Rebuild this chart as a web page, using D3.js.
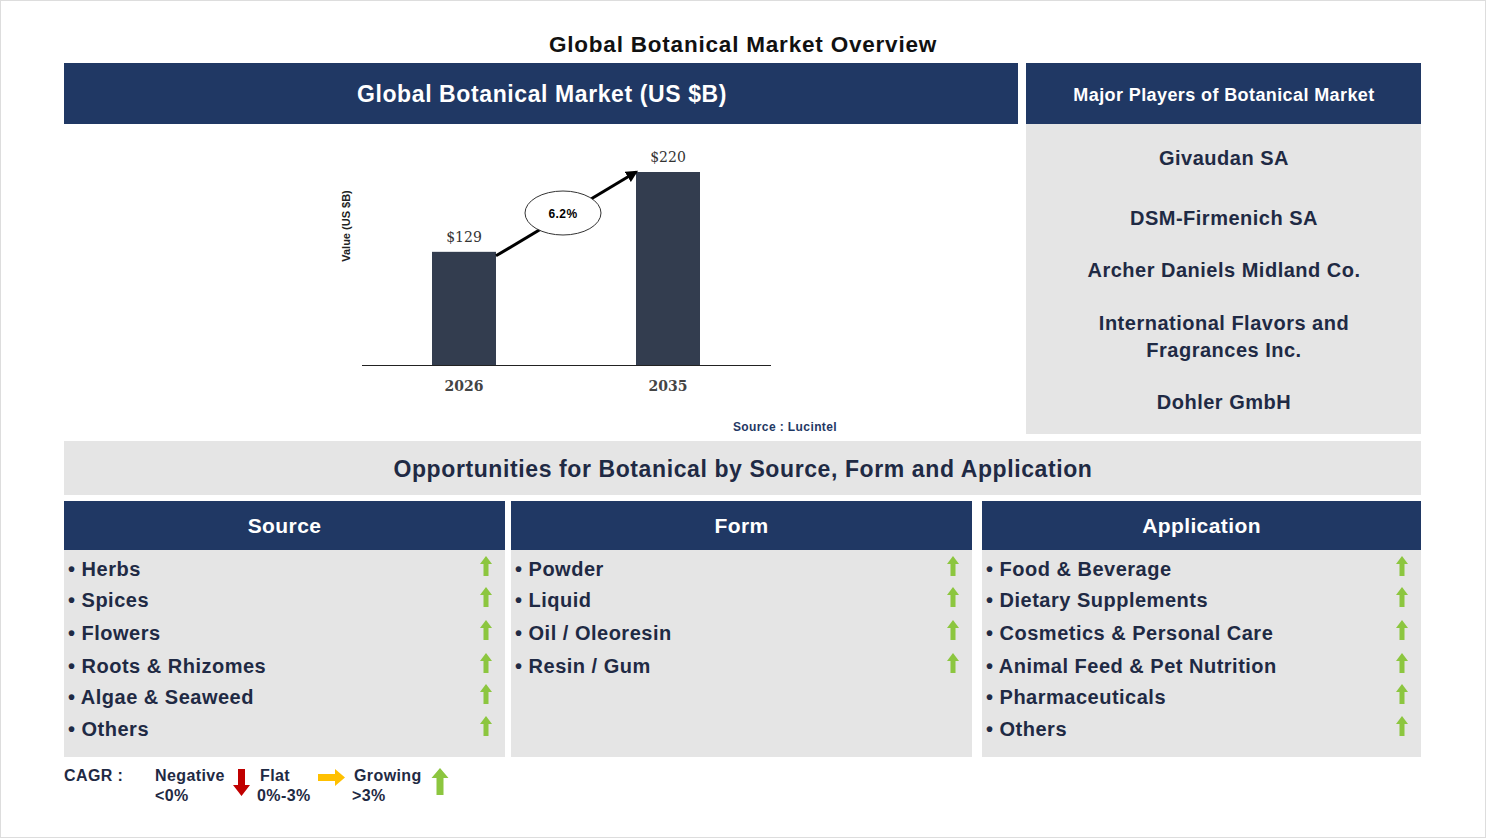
<!DOCTYPE html><html><head><meta charset="utf-8"><script src="https://d3js.org/d3.v7.min.js"></script>
<style>body{margin:0;background:#fff}</style></head><body><svg id="c" width="1486" height="838"></svg>
<script>
const years=["2026","2035"];
const values=[129,220];
const cagr="6.2%";
const players=["Givaudan SA","DSM-Firmenich SA","Archer Daniels Midland Co.","International Flavors and|Fragrances Inc.","Dohler GmbH"];
const sourceItems=["Herbs","Spices","Flowers","Roots & Rhizomes","Algae & Seaweed","Others"];
const formItems=["Powder","Liquid","Oil / Oleoresin","Resin / Gum"];
const appItems=["Food & Beverage","Dietary Supplements","Cosmetics & Personal Care","Animal Feed & Pet Nutrition","Pharmaceuticals","Others"];
const svg=d3.select("#c"),F="Liberation Sans, Arial, sans-serif",NAVY="#203864",GRAY="#e5e5e5",TXT="#1f2a44";
svg.append("rect").attr("x",0.5).attr("y",0.5).attr("width",1485).attr("height",837).attr("fill","none").attr("stroke","#ddd");
function t(x,y,s,o){const e=svg.append("text").attr("x",x).attr("y",y).text(s).attr("font-family",F).attr("font-weight","bold").attr("font-size",o.size||20).attr("fill",o.fill||TXT).attr("text-anchor",o.anchor||"middle").attr("letter-spacing",o.ls||0.4);return e;}
t(743,52,"Global Botanical Market Overview",{size:22.5,fill:"#111",ls:0.8});
svg.append("rect").attr("x",64).attr("y",63).attr("width",954).attr("height",61).attr("fill",NAVY);
t(542,102,"Global Botanical Market (US $B)",{size:23,fill:"#fff",ls:0.6});
svg.append("rect").attr("x",1026).attr("y",63).attr("width",395).attr("height",61).attr("fill",NAVY);
t(1224,101,"Major Players of Botanical Market",{size:18,fill:"#fff",ls:0.4});
svg.append("rect").attr("x",1026).attr("y",124).attr("width",395).attr("height",310).attr("fill",GRAY);
const py=[165,225,277,330,409];
players.forEach((p,i)=>{p.split("|").forEach((l,j)=>t(1224,py[i]+j*27,l,{size:20,ls:0.5}));});
const x=d3.scalePoint().domain(years).range([362,770]).padding(0.5);
const y=d3.scaleLinear().domain([0,220]).range([365,172]);
const bw=64;
svg.selectAll(".bar").data(values).enter().append("rect").attr("x",(d,i)=>x(years[i])-bw/2).attr("y",d=>y(d)).attr("width",bw).attr("height",d=>y(0)-y(d)).attr("fill","#333d4f");
svg.append("line").attr("x1",362).attr("x2",771).attr("y1",365.5).attr("y2",365.5).attr("stroke","#222");
values.forEach((d,i)=>{svg.append("text").attr("x",x(years[i])).attr("y",y(d)-10).attr("text-anchor","middle").attr("font-family","DejaVu Serif, serif").attr("font-size",14).attr("fill","#333").text("$"+d);
svg.append("text").attr("x",x(years[i])).attr("y",391).attr("text-anchor","middle").attr("font-family","DejaVu Serif, serif").attr("font-weight","bold").attr("font-size",14).attr("fill","#444").text(years[i]);});
svg.append("defs").append("marker").attr("id","ah").attr("viewBox","0 0 10 10").attr("refX",8).attr("refY",5).attr("markerWidth",4).attr("markerHeight",4).attr("orient","auto").append("path").attr("d","M0,0L10,5L0,10z").attr("fill","#000");
const x1=x(years[0])+bw/2,y1=y(values[0])+4,x2=x(years[1])-bw/2,y2=y(values[1]);
svg.append("line").attr("x1",x1).attr("y1",y1).attr("x2",x2).attr("y2",y2).attr("stroke","#000").attr("stroke-width",3).attr("marker-end","url(#ah)");
svg.append("ellipse").attr("cx",563).attr("cy",213).attr("rx",38).attr("ry",22).attr("fill","#fff").attr("stroke","#333");
t(563,218,cagr,{size:12,fill:"#000",ls:0});
svg.append("text").attr("transform","translate(350,226) rotate(-90)").attr("text-anchor","middle").attr("font-family",F).attr("font-weight","bold").attr("font-size",11).attr("fill","#222").text("Value (US $B)");
t(785,431,"Source : Lucintel",{size:12,fill:"#1f3864",ls:0});
svg.append("rect").attr("x",64).attr("y",441).attr("width",1357).attr("height",54).attr("fill",GRAY);
t(743,477,"Opportunities for Botanical by Source, Form and Application",{size:23,ls:0.6});
const cols=[{x:64,w:441,title:"Source",items:sourceItems},{x:511,w:461,title:"Form",items:formItems},{x:982,w:439,title:"Application",items:appItems}];
const ry=[576,607,640,673,704,736];
cols.forEach(c=>{
svg.append("rect").attr("x",c.x).attr("y",501).attr("width",c.w).attr("height",49).attr("fill",NAVY);
t(c.x+c.w/2,533,c.title,{size:21,fill:"#fff"});
svg.append("rect").attr("x",c.x).attr("y",550).attr("width",c.w).attr("height",207).attr("fill",GRAY);
c.items.forEach((it,i)=>{t(c.x+4,ry[i],"• "+it,{size:20,anchor:"start",ls:0.5});
const ax=c.x+c.w-19,ay=ry[i]-9;
svg.append("path").attr("d",`M${ax-6},${ay-3}L${ax},${ay-11}L${ax+6},${ay-3}L${ax+2.5},${ay-3}L${ax+2.5},${ay+9}L${ax-2.5},${ay+9}L${ax-2.5},${ay-3}Z`).attr("fill","#8cc63f");});
});
t(64,781,"CAGR  :",{size:16,anchor:"start"});
t(155,781,"Negative",{size:16,anchor:"start"});t(155,801,"<0%",{size:16,anchor:"start"});
svg.append("path").attr("d","M238,769h7v16h5l-8.5,11l-8.5,-11h5z").attr("fill","#c00000");
t(260,781,"Flat",{size:16,anchor:"start"});t(257,801,"0%-3%",{size:16,anchor:"start"});
svg.append("path").attr("d","M318,774h17v-5l10,8.5l-10,8.5v-5h-17z").attr("fill","#ffc000");
t(354,781,"Growing",{size:16,anchor:"start"});t(352,801,">3%",{size:16,anchor:"start"});
svg.append("path").attr("d","M440,768l8.5,10h-5v17h-7v-17h-5z").attr("fill","#8cc63f");
</script></body></html>
